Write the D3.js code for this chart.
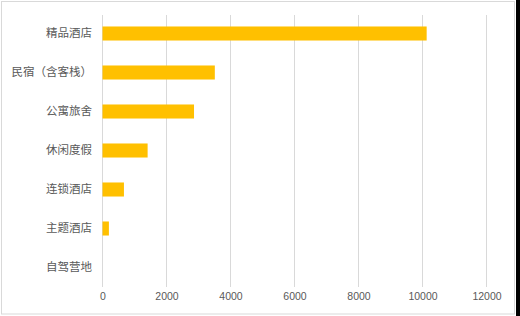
<!DOCTYPE html>
<html lang="zh">
  <head>
    <meta charset="UTF-8" />
    <title>Bar chart</title>
    <style>
      body { margin: 0; background: #000; }
      svg { display: block; }
      text { font-family: "Noto Sans CJK SC", "Noto Sans", sans-serif; }
    </style>
  </head>
  <body>
    <svg></svg>
    <script src="https://d3js.org/d3.v7.min.js"></script>
    <script>
      const categories = ["精品酒店", "民宿（含客栈）", "公寓旅舍", "休闲度假", "连锁酒店", "主题酒店", "自驾营地"];
      const values = [10130, 3510, 2860, 1410, 670, 200, 0];
      const xTicks = [0, 2000, 4000, 6000, 8000, 10000, 12000];

      const W = 520, H = 316;
      const svg = d3.select("svg").attr("width", W).attr("height", H);

      // background panel with light grey frame
      svg.append("rect").attr("x", 0).attr("y", 0).attr("width", 516).attr("height", H).attr("fill", "#fff");
      svg.append("rect").attr("x", 1.5).attr("y", 1.5).attr("width", 513).attr("height", 312.5)
        .attr("fill", "none").attr("stroke", "#d9d9d9");

      const x = d3.scaleLinear().domain([0, 12000]).range([102.5, 486.5]);
      const y = d3.scaleBand().domain(categories).range([14, 287]).paddingInner(0.64).paddingOuter(0.32);

      // gridlines
      svg.append("g")
        .selectAll("line")
        .data(xTicks)
        .join("line")
        .attr("x1", d => x(d)).attr("x2", d => x(d))
        .attr("y1", 15).attr("y2", 287)
        .attr("stroke", "#d9d9d9").attr("stroke-width", 1);

      // bars
      svg.append("g")
        .selectAll("rect")
        .data(values)
        .join("rect")
        .attr("x", x(0))
        .attr("y", (d, i) => y(categories[i]))
        .attr("width", d => x(d) - x(0))
        .attr("height", y.bandwidth())
        .attr("fill", "#ffc000");

      // x axis labels
      const xAxis = d3.axisBottom(x).tickValues(xTicks).tickFormat(d3.format("d")).tickSize(0).tickPadding(0);
      const gx = svg.append("g").attr("transform", "translate(0,293)").call(xAxis);
      gx.select(".domain").remove();
      gx.selectAll("text").attr("fill", "#595959").attr("font-size", 10.5).attr("dy", "0.71em")
        .style("font-family", "'Liberation Sans', Arial, sans-serif");

      // category labels
      const yAxis = d3.axisLeft(y).tickSize(0).tickPadding(0);
      const gy = svg.append("g").attr("transform", "translate(92,0)").call(yAxis);
      gy.select(".domain").remove();
      gy.selectAll("text").attr("fill", "#595959").attr("font-size", 11.5);
    </script>
  </body>
</html>
